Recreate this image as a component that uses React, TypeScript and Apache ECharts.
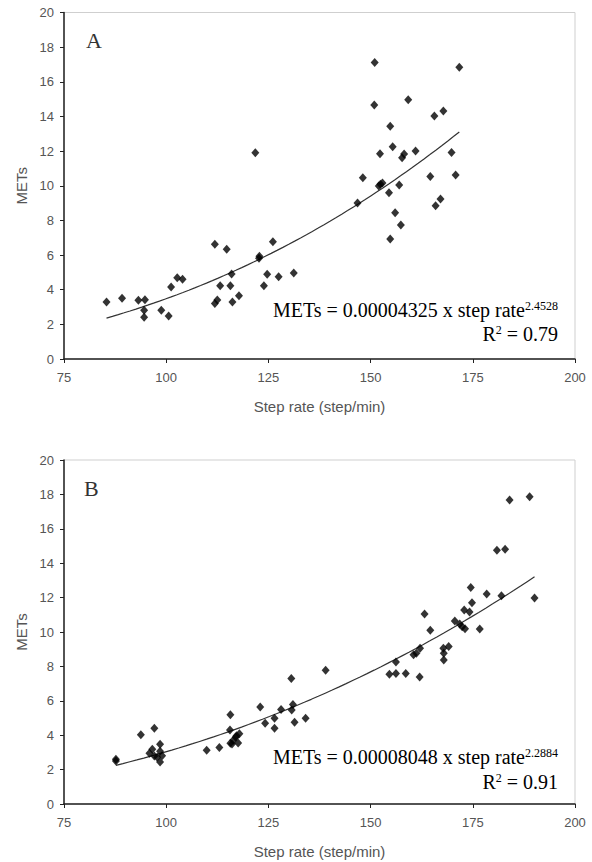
import React, { useEffect, useRef } from "react";
import * as echarts from "echarts";

// Panel A: step rate (step/min) and METs
const stepRateA = [
  85.4, 89.2, 93.2, 94.8, 94.6, 94.6, 98.8, 100.6, 101.2, 102.7, 104.0,
  111.9, 114.8, 111.9, 112.5, 113.2, 115.7, 116.0, 116.2, 117.8, 121.8,
  122.7, 122.8, 123.9, 124.7, 126.1, 127.5, 131.2,
  146.8, 148.1, 150.9, 151.0, 159.2, 165.6, 167.8, 171.7,
  154.8, 155.4, 152.3, 157.7, 158.2, 161.0, 169.8, 170.8, 164.6,
  152.0, 152.9, 152.4, 154.5, 157.0, 156.0, 157.4, 154.8, 165.9, 167.1,
];
const metsA = [
  3.29, 3.5, 3.39, 3.42, 2.81, 2.41, 2.81, 2.48, 4.15, 4.69, 4.6,
  6.62, 6.33, 3.21, 3.4, 4.23, 4.23, 4.9, 3.29, 3.65, 11.9,
  5.81, 5.93, 4.23, 4.89, 6.77, 4.75, 4.96,
  9.0, 10.46, 14.66, 17.12, 14.96, 14.02, 14.31, 16.84,
  13.44, 12.25, 11.85, 11.62, 11.83, 12.0, 11.92, 10.62, 10.54,
  9.98, 10.16, 10.08, 9.6, 10.04, 8.44, 7.73, 6.92, 8.85, 9.23,
];

// Panel B
const stepRateB = [
  87.7, 87.7, 93.8, 97.1, 95.9, 96.6, 97.1, 97.8, 98.5, 98.5, 98.5, 99.0,
  109.9, 113.0, 115.7, 115.6, 115.7, 116.1, 117.0, 117.2, 117.6, 116.4, 117.9,
  123.0, 124.2, 126.5, 126.5, 128.1, 130.6, 130.7, 131.0, 131.4, 134.1, 139.0,
  154.6, 156.2, 156.2, 158.6, 160.5, 161.2, 162.0, 162.1,
  167.9, 167.9, 167.8, 169.1, 163.2, 164.6, 170.6, 171.8, 172.4, 173.1,
  176.7, 172.9, 174.2, 174.8, 174.5, 178.4, 182.0, 190.1,
  180.9, 182.9, 184.0, 188.9,
];
const metsB = [
  2.6, 2.5, 4.03, 4.4, 2.95, 3.18, 2.79, 2.72, 3.47, 3.07, 2.44, 2.81,
  3.12, 3.29, 5.19, 4.3, 3.53, 3.49, 3.88, 3.97, 3.55, 3.7, 4.09,
  5.64, 4.69, 4.98, 4.4, 5.5, 7.3, 5.47, 5.79, 4.75, 4.98, 7.77,
  7.54, 8.26, 7.58, 7.58, 8.68, 8.76, 7.38, 9.05,
  8.37, 8.76, 9.05, 9.15, 11.05, 10.1, 10.64, 10.47, 10.31, 10.19,
  10.17, 11.28, 11.16, 11.7, 12.58, 12.21, 12.11, 11.98,
  14.75, 14.81, 17.67, 17.87,
];

// Fitted power curves shown on the chart: METs = a x step rate^b
const fitA = { a: 0.00004325, b: 2.4528, label: "0.00004325", exp: "2.4528", r2: "0.79" };
const fitB = { a: 0.00008048, b: 2.2884, label: "0.00008048", exp: "2.2884", r2: "0.91" };

const xTicks = [75, 100, 125, 150, 175, 200];
const yTicks = [0, 2, 4, 6, 8, 10, 12, 14, 16, 18, 20];

function curve(xs: number[], fit: { a: number; b: number }) {
  const lo = Math.min(...xs);
  const hi = Math.max(...xs);
  const pts: number[][] = [];
  const n = 60;
  for (let i = 0; i <= n; i++) {
    const x = lo + ((hi - lo) * i) / n;
    pts.push([x, fit.a * Math.pow(x, fit.b)]);
  }
  return pts;
}

const sans = "'Liberation Sans', Arial, sans-serif";
const serif = "'Liberation Serif', 'Times New Roman', serif";

export default function App() {
  const ref = useRef<HTMLDivElement>(null);
  useEffect(() => {
    if (!ref.current) return;
    const chart = echarts.init(ref.current, undefined, { renderer: "svg" });
    const xAxis = (gi: number) => ({
      type: "value",
      gridIndex: gi,
      min: xTicks[0],
      max: xTicks[xTicks.length - 1],
      interval: 25,
      name: "Step rate (step/min)",
      nameLocation: "middle",
      nameGap: 40,
      nameTextStyle: { fontFamily: sans, fontSize: 15, color: "#555" },
      axisLine: { show: true, lineStyle: { color: "#222", width: 1.5 } },
      axisTick: { show: true, length: 4, lineStyle: { color: "#222" } },
      axisLabel: { fontFamily: sans, fontSize: 13, color: "#555", margin: 12 },
      splitLine: { show: false },
    });
    const yAxis = (gi: number) => ({
      type: "value",
      gridIndex: gi,
      min: yTicks[0],
      max: yTicks[yTicks.length - 1],
      interval: 2,
      name: "METs",
      nameLocation: "middle",
      nameRotate: 90,
      nameGap: 35,
      nameTextStyle: { fontFamily: sans, fontSize: 15, color: "#555" },
      axisLine: { show: true, lineStyle: { color: "#222", width: 1.5 } },
      axisTick: { show: true, length: 4, lineStyle: { color: "#222" } },
      axisLabel: { fontFamily: sans, fontSize: 13, color: "#555", margin: 10 },
      splitLine: { show: false },
    });
    const rich = {
      b: { fontFamily: serif, fontSize: 20, color: "#555" },
      s: { fontFamily: serif, fontSize: 12, color: "#555", verticalAlign: "top" },
    };
    const eq = (fit: any, yEq: number, yR: number) => [
      {
        type: "text",
        x: 558,
        y: yEq,
        style: {
          text: `{b|METs = ${fit.label} x step rate}{s|${fit.exp}}`,
          rich,
          align: "right",
          verticalAlign: "middle",
        },
      },
      {
        type: "text",
        x: 558,
        y: yR,
        style: {
          text: `{b|R}{s|2}{b| = ${fit.r2}}`,
          rich,
          align: "right",
          verticalAlign: "middle",
        },
      },
    ];
    chart.setOption({
      animation: false,
      backgroundColor: "#fff",
      grid: [
        { left: 64, top: 12.5, width: 511, height: 346.5, show: true, borderColor: "#cfcfcf", borderWidth: 1 },
        { left: 64, top: 460, width: 511, height: 344, show: true, borderColor: "#cfcfcf", borderWidth: 1 },
      ],
      xAxis: [xAxis(0), xAxis(1)],
      yAxis: [yAxis(0), yAxis(1)],
      series: [
        {
          type: "scatter",
          xAxisIndex: 0,
          yAxisIndex: 0,
          symbol: "diamond",
          symbolSize: [8, 9],
          itemStyle: { color: "#000" },
          data: stepRateA.map((x, i) => [x, metsA[i]]),
          z: 3,
        },
        {
          type: "line",
          xAxisIndex: 0,
          yAxisIndex: 0,
          showSymbol: false,
          symbol: "none",
          lineStyle: { color: "#333", width: 1.2 },
          data: curve(stepRateA, fitA),
          z: 2,
        },
        {
          type: "scatter",
          xAxisIndex: 1,
          yAxisIndex: 1,
          symbol: "diamond",
          symbolSize: [8, 9],
          itemStyle: { color: "#000" },
          data: stepRateB.map((x, i) => [x, metsB[i]]),
          z: 3,
        },
        {
          type: "line",
          xAxisIndex: 1,
          yAxisIndex: 1,
          showSymbol: false,
          symbol: "none",
          lineStyle: { color: "#333", width: 1.2 },
          data: curve(stepRateB, fitB),
          z: 2,
        },
      ],
      graphic: [
        {
          type: "text",
          x: 86,
          y: 40,
          style: { text: "A", fontFamily: serif, fontSize: 22, fill: "#333", verticalAlign: "middle" },
        },
        {
          type: "text",
          x: 84,
          y: 488,
          style: { text: "B", fontFamily: serif, fontSize: 22, fill: "#333", verticalAlign: "middle" },
        },
        ...eq(fitA, 310, 334),
        ...eq(fitB, 757, 782),
      ],
    });
    return () => chart.dispose();
  }, []);
  return (
    <div
      ref={ref}
      style={{ position: "absolute", left: 0, top: 0, width: 592, height: 862 }}
    />
  );
}
